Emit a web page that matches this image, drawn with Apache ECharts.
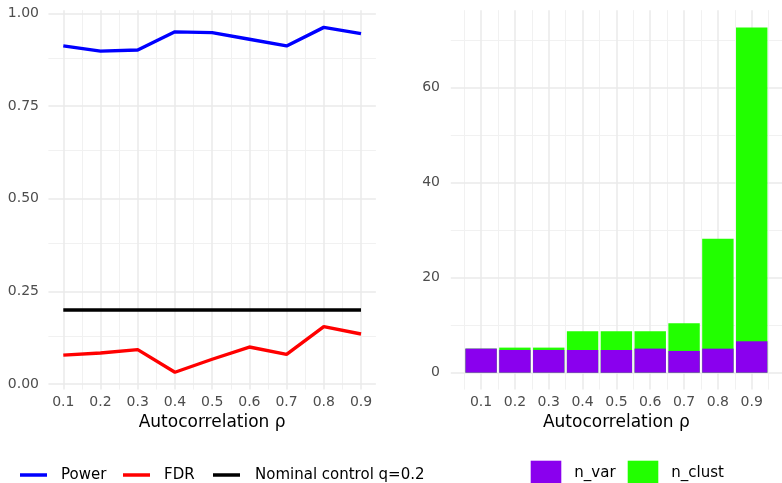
<!DOCTYPE html>
<html>
<head>
<meta charset="utf-8">
<script src="https://cdn.jsdelivr.net/npm/echarts@6/dist/echarts.min.js"></script>
<style>
html,body{margin:0;padding:0;background:#fff;}
#c{width:782px;height:483px;}
</style>
</head>
<body>
<div id="c"></div>
<script>
// ---- data ----
const rho = [0.1, 0.2, 0.3, 0.4, 0.5, 0.6, 0.7, 0.8, 0.9];
const power = [0.912, 0.898, 0.901, 0.950, 0.948, 0.930, 0.912, 0.962, 0.945];
const fdr = [0.078, 0.084, 0.093, 0.032, 0.067, 0.100, 0.080, 0.155, 0.135];
const nominal = [0.2, 0.2, 0.2, 0.2, 0.2, 0.2, 0.2, 0.2, 0.2];
const nVar = [5.06, 4.78, 4.78, 4.78, 4.78, 5.06, 4.57, 5.05, 6.6];
const nClust = [0, 0.49, 0.49, 3.93, 3.93, 3.65, 5.83, 23.09, 66.0];
// ---- ticks ----
const xTicks = [0.1, 0.2, 0.3, 0.4, 0.5, 0.6, 0.7, 0.8, 0.9];
const leftXMinor = [0.15, 0.25, 0.35, 0.45, 0.55, 0.65, 0.75, 0.85];
const rightXMinor = [0.05, 0.15, 0.25, 0.35, 0.45, 0.55, 0.65, 0.75, 0.85, 0.95];
const leftYTicks = [0, 0.25, 0.5, 0.75, 1.0];
const leftYMinor = [0.125, 0.375, 0.625, 0.875];
const rightYTicks = [0, 20, 40, 60];
const rightYMinor = [10, 30, 50, 70];

// stacked top of each bar (n_clust sits on n_var)
const nTop = nVar.map((v, i) => v + nClust[i]);

const FONT = 'DejaVu Sans';
const majorStyle = {color: '#EAEAEA', width: 1.5, type: 'solid'};
const minorStyle = {color: '#F1F1F1', width: 1, type: 'solid'};

function gridLines(xs, xm, ys, ym) {
  const d = [];
  xm.forEach(v => d.push({xAxis: v, lineStyle: minorStyle}));
  ym.forEach(v => d.push({yAxis: v, lineStyle: minorStyle}));
  xs.forEach(v => d.push({xAxis: v, lineStyle: majorStyle}));
  ys.forEach(v => d.push({yAxis: v, lineStyle: majorStyle}));
  return d;
}

const pair = (xs, ys) => xs.map((x, i) => [x, ys[i]]);

const axisLabelBase = {color: '#4D4D4D', fontSize: 14, fontFamily: FONT};
const legendText = (pad) => ({color: '#000', fontSize: 15, fontFamily: FONT, padding: [0, 0, 0, pad]});

const chart = echarts.init(document.getElementById('c'), null, {renderer: 'canvas'});
chart.setOption({
  animation: false,
  backgroundColor: '#fff',
  grid: [
    {left: 48.4, top: 10.15, width: 327.5, height: 379.4},
    {left: 450.8, top: 10.15, width: 341.6, height: 379.4}
  ],
  xAxis: [
    {type: 'value', gridIndex: 0, min: 0.06, max: 0.94,
     axisLine: {show: false}, axisTick: {show: false}, splitLine: {show: false},
     axisLabel: Object.assign({}, axisLabelBase, {customValues: xTicks, margin: 6, formatter: v => v.toFixed(1)}),
     name: 'Autocorrelation ρ', nameLocation: 'middle', nameGap: 22,
     nameTextStyle: {color: '#000', fontSize: 17, fontFamily: FONT}},
    {type: 'value', gridIndex: 1, min: 0.0105, max: 0.9895,
     axisLine: {show: false}, axisTick: {show: false}, splitLine: {show: false},
     axisLabel: Object.assign({}, axisLabelBase, {customValues: xTicks, margin: 6, formatter: v => v.toFixed(1)}),
     name: 'Autocorrelation ρ', nameLocation: 'middle', nameGap: 22,
     nameTextStyle: {color: '#000', fontSize: 17, fontFamily: FONT}}
  ],
  yAxis: [
    {type: 'value', gridIndex: 0, min: -0.0147, max: 1.0085,
     axisLine: {show: false}, axisTick: {show: false}, splitLine: {show: false},
     axisLabel: Object.assign({}, axisLabelBase, {customValues: leftYTicks, margin: 9.4, formatter: v => v.toFixed(2)})},
    {type: 'value', gridIndex: 1, min: -3.55, max: 76.23,
     axisLine: {show: false}, axisTick: {show: false}, splitLine: {show: false},
     axisLabel: Object.assign({}, axisLabelBase, {customValues: rightYTicks, margin: 10.8, formatter: v => String(v)})}
  ],
  legend: [
    {data: [{name: 'Power', icon: 'rect'}], left: 20, top: 467.5, padding: 0, itemWidth: 27, itemHeight: 3.5,
     textStyle: legendText(9), selectedMode: false},
    {data: [{name: 'FDR', icon: 'rect'}], left: 123, top: 467.5, padding: 0, itemWidth: 27, itemHeight: 3.5,
     textStyle: legendText(9), selectedMode: false},
    {data: [{name: 'Nominal control q=0.2', icon: 'rect'}], left: 213, top: 467.5, padding: 0, itemWidth: 27, itemHeight: 3.5,
     textStyle: legendText(10), selectedMode: false},
    {data: [{name: 'n_var', icon: 'rect'}], left: 530.7, top: 460.7, padding: 0, itemWidth: 30.6, itemHeight: 25,
     textStyle: legendText(8), selectedMode: false},
    {data: [{name: 'n_clust', icon: 'rect'}], left: 627.7, top: 460.7, padding: 0, itemWidth: 30.6, itemHeight: 25,
     textStyle: legendText(8), selectedMode: false}
  ],
  series: [
    {name: 'gridL', type: 'scatter', xAxisIndex: 0, yAxisIndex: 0, data: [], z: 0, silent: true,
     markLine: {silent: true, z: 0, symbol: ['none', 'none'], label: {show: false}, animation: false,
       data: gridLines(xTicks, leftXMinor, leftYTicks, leftYMinor)}},
    {name: 'gridR', type: 'scatter', xAxisIndex: 1, yAxisIndex: 1, data: [], z: 0, silent: true,
     markLine: {silent: true, z: 0, symbol: ['none', 'none'], label: {show: false}, animation: false,
       data: gridLines(xTicks, rightXMinor, rightYTicks, rightYMinor)}},
    {name: 'Power', type: 'line', xAxisIndex: 0, yAxisIndex: 0, data: pair(rho, power), z: 5,
     showSymbol: false, symbol: 'none', color: '#0000FF', lineStyle: {color: '#0000FF', width: 3.4}},
    {name: 'FDR', type: 'line', xAxisIndex: 0, yAxisIndex: 0, data: pair(rho, fdr), z: 5,
     showSymbol: false, symbol: 'none', color: '#FF0000', lineStyle: {color: '#FF0000', width: 3.4}},
    {name: 'Nominal control q=0.2', type: 'line', xAxisIndex: 0, yAxisIndex: 0, data: pair(rho, nominal), z: 5,
     showSymbol: false, symbol: 'none', color: '#000000', lineStyle: {color: '#000000', width: 3.4}},
    {name: 'n_clust', type: 'bar', xAxisIndex: 1, yAxisIndex: 1, data: pair(rho, nTop), z: 6,
     barWidth: 31.4, barGap: '-100%', color: '#22FF00', itemStyle: {color: '#22FF00'}},
    {name: 'n_var', type: 'bar', xAxisIndex: 1, yAxisIndex: 1, data: pair(rho, nVar), z: 7,
     barWidth: 31.4, barGap: '-100%', color: '#8A00EE', itemStyle: {color: '#8A00EE'}}
  ]
});
</script>
</body>
</html>
